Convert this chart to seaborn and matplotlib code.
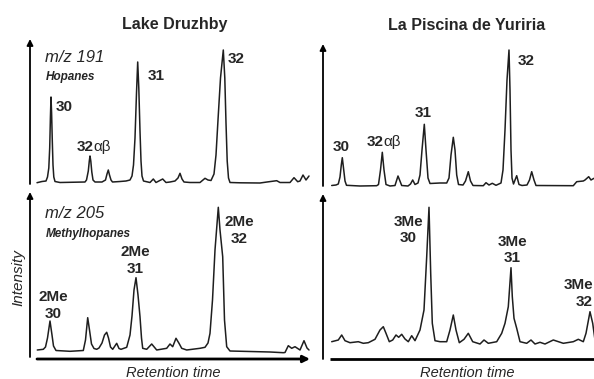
import matplotlib
matplotlib.use("Agg")
import matplotlib.pyplot as plt
import seaborn as sns
import pandas as pd

# ---------------- data (retention position, intensity above baseline) ----------------
# Lake Druzhby, m/z 191 (hopanes)
druzhby_191_rt = [7, 12, 16, 17.5, 18.8, 19.7, 20.4, 21, 21.6, 22.3, 23, 23.8, 25, 30,
                  55, 56.5, 58.3, 59.3, 60, 60.8, 61.8, 63, 65,
                  72, 75.5, 77, 78.3, 79.5, 81, 82.5, 90, 96,
                  100, 102, 103.5, 105, 106.5, 107.7, 108.8, 110, 111, 112, 113.5, 120,
                  123.3, 126, 132.7, 136, 140, 145, 148, 150, 152, 154, 160, 170, 175, 178,
                  181, 184, 186, 188, 190.5, 193.3, 194.8, 196, 197.2, 198.5, 200,
                  210, 230, 237, 246.7, 250, 260, 264, 267.7, 270, 273, 276, 279]
druzhby_191_int = [0.3, 1.5, 2, 6, 15, 35, 65, 86, 70, 42, 18, 6, 1.5, 0.5,
                   1, 3, 12, 22, 27, 22, 11, 3, 1,
                   1, 3, 9, 13, 8, 3, 1, 1.5, 2,
                   3, 7, 18, 45, 90, 121, 95, 52, 22, 7, 2, 0.5,
                   4, 0.5, 4, 0.5, 1, 2, 5, 9.7, 4, 1, 0.5, 0.5, 4.7, 3,
                   2.5, 9, 28, 63, 105, 133, 105, 60, 22, 5, 0.5,
                   0.2, 0, 1, 2.3, 0.5, 0.5, 5.3, 1.3, 2, 8, 3, 7]

# La Piscina de Yuriria, m/z 191 (hopanes)
yuriria_191_rt = [9.7, 14, 16.3, 18, 19.3, 20.3, 21.5, 23, 24.5, 38, 54.7, 56.5, 58.5, 60.3, 62, 64, 68, 73, 76,
                  79.7, 86, 88.5, 90.7, 93, 96, 98, 100, 102.3, 104, 106, 108, 118, 124.7, 127, 129, 131.3, 133,
                  134.7, 136.5, 141, 143.5, 146.3, 148.5, 151, 161.3, 164, 167, 170.3, 174, 179, 181, 183, 185,
                  187, 188, 189, 190, 191.5, 194.7, 197, 200, 205, 207.5, 209.7, 212, 214, 251.3, 254.7, 261.3,
                  263, 266.7, 269, 272]
yuriria_191_int = [0.2, 0.7, 1.7, 8.7, 20.7, 28, 17.7, 4.7, 0.4, -0.3, 0, 1.2, 15.7, 33.4, 15.7, 1.2, -0.3, 0.2, 9.7,
                   0.2, -0.3, 1.7, 5.7, 1.2, 2.7, 10.7, 35.7, 61.4, 35.7, 7.7, 2.2, 2.7, 2.7, 7.7, 30.7, 48.4, 35.7,
                   10.7, 1.2, 0.7, 4.7, 14, 4.7, 0.2, 0, 3, 0.7, 2.4, 0.4, 2.7, 15.7, 55.7, 105.7,
                   135.7, 95.7, 35.7, 7.7, 1.7, 10, 1.2, 0.2, 0.7, 5.7, 14, 5.7, 0.2, 0, 4, 4.7,
                   5.7, 9, 5.7, 7.4]

# Lake Druzhby, m/z 205 (methylhopanes)
druzhby_205_rt = [7.3, 13.3, 15.5, 17.5, 20, 22, 23.5, 26, 40, 53.3, 55.5, 57.7, 59.5, 61.5, 64, 66.7, 69, 72,
                  74.5, 76.7, 78.5, 80.5, 82.7, 86.7, 89, 91, 96.7, 100, 102, 104, 106, 108, 110, 111.5, 112.7,
                  116.7, 121.7, 126.7, 136.7, 140, 142.7, 146, 149, 151.7, 156.7, 170, 175, 178, 180, 182.5, 185,
                  188.3, 190, 192.7, 194.5, 196.7, 200, 220, 240, 253.3, 255, 258.3, 261.7, 265, 270, 274, 277, 279]
druzhby_205_int = [0.7, 1.4, 3.7, 12.7, 29.7, 15.7, 4.7, 0.2, -0.6, 0.2, 10.7, 33, 20.7, 6.7, 2.2, 1.4, 2.7, 7.7,
                   15.7, 18.4, 12.7, 3.7, 1.4, 7.4, 2.2, 1.4, 3.4, 15.7, 34.7, 60.7, 73, 55.7, 34, 12.7, 2.4,
                   1.4, 6.7, 0.7, 2.4, 6.7, 4, 12.4, 7.4, 2.4, 0.7, 2.4, 3.4, 7.7, 17.4, 50.7, 100.7,
                   143.4, 120.7, 94, 30.7, 4, -0.3, -0.8, -1.3, -2, -1.8, 5, 2.4, 4, 0.7, 10, 2.7, 0.7]

# La Piscina de Yuriria, m/z 205 (methylhopanes)
yuriria_205_rt = [9.7, 16.3, 19.7, 23, 28, 36.3, 41.3, 46.3, 53, 58, 61.3, 64, 67.3, 70.7, 74, 76.7, 79.7, 83,
                  86.3, 89.7, 93, 98, 102, 104.7, 107, 108.7, 110.3, 113, 118, 124.7, 128, 131.3, 134, 137.3,
                  142, 146.3, 150.7, 158, 162, 166.3, 174.7, 179.7, 183, 186.3, 189, 190.3, 192, 194.7, 198,
                  204.7, 209, 213, 218, 223, 231.3, 241.3, 251.3, 256.3, 261.3, 264, 268, 270.7, 273]
yuriria_205_int = [1, 2.7, 7.7, 2, 0, 1, -0.6, 0, 3.4, 12.7, 16, 9.4, 1, 2.7, 7.7, 5.4, 8.4, 3.7,
                   1, 7, 2, 12.7, 32.7, 86, 135.4, 69.4, 19.4, 2, 1, 1, 12.7, 27.7, 12.7, 0,
                   3.4, 9.4, 1, -1.3, 2.7, -0.6, 1, 9.4, 19.4, 36, 75, 46, 24.4, 14.4, 1,
                   -0.6, 2.7, -1.3, 0.4, -1.3, 2.7, -0.6, 1, 3.4, 1, 9.4, 31, 19.4, 2.7]

site_titles = ["Lake Druzhby", "La Piscina de Yuriria"]
ion_labels = ["m/z 191", "m/z 205"]
class_labels = ["Hopanes", "Methylhopanes"]
x_label = "Retention time"
y_label = "Intensity"

# ---------------- figure ----------------
sns.set_style("white")
plt.rcParams["font.family"] = ["Liberation Sans", "DejaVu Sans"]

W, H = 594, 379
fig = plt.figure(figsize=(W / 100, H / 100), dpi=100)
fig.patch.set_facecolor("white")

ov = fig.add_axes([0, 0, 1, 1])
ov.set_xlim(0, W)
ov.set_ylim(H, 0)
ov.axis("off")


def panel(x0, x1, ytop, ybot, xref, yref):
    ax = fig.add_axes([x0 / W, 1 - ybot / H, (x1 - x0) / W, (ybot - ytop) / H])
    ax.set_facecolor("none")
    ax.set_xlim(x0 - xref, x1 - xref)
    ax.set_ylim(yref - ybot, yref - ytop)
    ax.axis("off")
    return ax


line_kw = dict(color="#1e1e1e", linewidth=1.1, estimator=None, sort=False, legend=False)

traces = [
    (druzhby_191_rt, druzhby_191_int, (30, 312, 40, 188, 30, 183.0)),
    (yuriria_191_rt, yuriria_191_int, (322, 594, 40, 190, 322, 185.7)),
    (druzhby_205_rt, druzhby_205_int, (30, 312, 190, 359, 30, 350.7)),
    (yuriria_205_rt, yuriria_205_int, (322, 594, 190, 359, 322, 342.7)),
]
for rt, inten, geom in traces:
    ax = panel(*geom)
    df = pd.DataFrame({"rt": rt, "intensity": inten})
    sns.lineplot(data=df, x="rt", y="intensity", ax=ax, **line_kw)
    ax.axis("off")

# ---------------- axes arrows ----------------
akw = dict(arrowstyle="-|>", color="black", lw=1.3, mutation_scale=9, shrinkA=0, shrinkB=0)
ov.annotate("", xy=(30, 39), xytext=(30, 184), arrowprops=akw)
ov.annotate("", xy=(30, 192), xytext=(30, 357), arrowprops=akw)
ov.annotate("", xy=(323, 44), xytext=(323, 186), arrowprops=akw)
ov.annotate("", xy=(323, 194), xytext=(323, 359), arrowprops=akw)
ov.annotate("", xy=(310, 359), xytext=(37, 359),
            arrowprops=dict(arrowstyle="-|>", color="black", lw=2.0, mutation_scale=10, shrinkA=0, shrinkB=0))
ov.plot([330, 594], [359, 359], color="black", lw=2.0, solid_capstyle="butt")

# ---------------- text ----------------
ov.text(175, 25, site_titles[0], ha="center", va="center", fontsize=11.5, fontweight="bold")
ov.text(467, 25, site_titles[1], ha="center", va="center", fontsize=11.5, fontweight="bold")

ov.text(45, 58, ion_labels[0], ha="left", va="center", fontsize=12, fontstyle="italic")
ov.text(46, 77, class_labels[0], ha="left", va="center", fontsize=8.5, fontstyle="italic", fontweight="bold")
ov.text(45, 214, ion_labels[1], ha="left", va="center", fontsize=12, fontstyle="italic")
ov.text(46, 234, class_labels[1], ha="left", va="center", fontsize=8.5, fontstyle="italic", fontweight="bold")

pk = dict(fontsize=11, fontweight="bold", va="center")
# top-left
ov.text(56, 107, "30", ha="left", **pk)
ov.text(77, 147, "32", ha="left", **pk)
ov.text(93, 147, "αβ", ha="left", fontsize=11, va="center")
ov.text(148, 76, "31", ha="left", **pk)
ov.text(228, 59, "32", ha="left", **pk)
# top-right
ov.text(333, 147, "30", ha="left", **pk)
ov.text(367, 142, "32", ha="left", **pk)
ov.text(383, 142, "αβ", ha="left", fontsize=11, va="center")
ov.text(415, 113, "31", ha="left", **pk)
ov.text(518, 61, "32", ha="left", **pk)

# bottom-left
for cx, y1, num in [(53, 297, "30"), (135, 252, "31"), (239, 222, "32")]:
    ov.text(cx, y1, "2Me", ha="center", **pk)
    ov.text(cx, y1 + 17, num, ha="center", **pk)
# bottom-right
for cx, y1, num in [(408, 222, "30"), (512, 242, "31")]:
    ov.text(cx, y1, "3Me", ha="center", **pk)
    ov.text(cx, y1 + 16.5, num, ha="center", **pk)
# last label kept inside the right edge
ov.text(593, 285, "3Me", ha="right", **pk)
ov.text(593, 301.5, "32", ha="right", **pk)

ov.text(18, 278, y_label, ha="center", va="center", rotation=90, fontsize=11, fontstyle="italic")
ov.text(173, 373, x_label, ha="center", va="center", fontsize=10.5, fontstyle="italic")
ov.text(467, 373, x_label, ha="center", va="center", fontsize=10.5, fontstyle="italic")

fig.savefig("out.png", dpi=100)
